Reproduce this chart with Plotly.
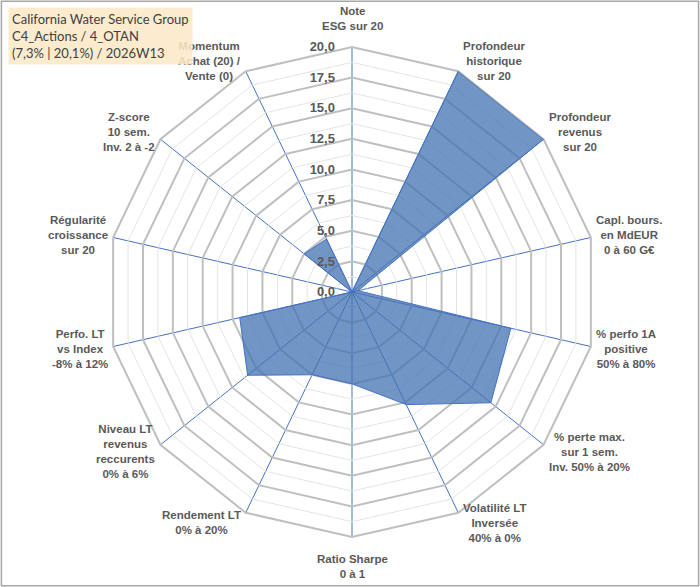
import math
import plotly.graph_objects as go

# axes of the radar (clockwise from the top)
criteres = [
    "Note<br>ESG sur 20",
    "Profondeur<br>historique<br>sur 20",
    "Profondeur<br>revenus<br>sur 20",
    "Capl. bours.<br>en MdEUR<br>0 à 60 G€",
    "% perfo 1A<br>positive<br>50% à 80%",
    "% perte max.<br>sur 1 sem.<br>Inv. 50% à 20%",
    "Volatilité LT<br>Inversée<br>40% à 0%",
    "Ratio Sharpe<br>0 à 1",
    "Rendement LT<br>0% à 20%",
    "Niveau LT<br>revenus<br>reccurents<br>0% à 6%",
    "Perfo. LT<br>vs Index<br>-8% à 12%",
    "Régularité<br>croissance<br>sur 20",
    "Z-score<br>10 sem.<br>Inv. 2 à -2",
    "Momentum<br>Achat (20) /<br>Vente (0)",
]
notes = [0, 20, 20, 0.5, 13.3, 14.5, 10.2, 7.5, 7.5, 10.9, 9.4, 0, 5.0, 4.8]

# light intermediate rings between the 2,5 steps
anneaux_mineurs = [1.25, 3.75, 6.25, 8.75, 11.25, 13.75, 16.25, 18.75]

titre = ["California Water Service Group", "C4_Actions / 4_OTAN", "(7,3% | 20,1%) / 2026W13"]

fig = go.Figure()

theta_ferme = criteres + [criteres[0]]
for v in anneaux_mineurs:
    fig.add_trace(go.Scatterpolar(
        r=[v] * len(theta_ferme), theta=theta_ferme, mode="lines",
        line=dict(color="#E4E4E4", width=1), hoverinfo="skip", showlegend=False,
    ))

fig.add_trace(go.Scatterpolar(
    r=notes + [notes[0]], theta=theta_ferme, mode="lines",
    fill="toself", fillcolor="rgba(65,113,176,0.75)",
    line=dict(color="#4472C4", width=1), showlegend=False,
))

W, H = 700, 587
cx, cy, R = 352, 292, 245

# category labels placed beside each spoke end, centred text like Excel
annots = []
n = len(criteres)
for k, lab in enumerate(criteres):
    a = math.radians(k * 360 / n)
    s, c = math.sin(a), math.cos(a)
    vx, vy = cx + R * s, cy - R * c
    d = dict(text=lab, xref="paper", yref="paper", x=vx / W, y=1 - vy / H,
             showarrow=False, align="center",
             font=dict(size=11.5, color="#595959", weight="bold"))
    if k == 0:
        d.update(xanchor="center", yanchor="bottom", yshift=13)
    elif k == n // 2:
        d.update(xanchor="center", yanchor="top", yshift=-14)
    else:
        d.update(xanchor="left" if s > 0 else "right", yanchor="middle",
                 xshift=3 if s > 0 else -3, yshift=11 * c)
    annots.append(d)

annots.append(dict(
    text="<br>".join(titre), xref="paper", yref="paper", x=8 / W, y=1 - 7 / H,
    xanchor="left", yanchor="top", align="left", showarrow=False,
    font=dict(family="Lato", size=13, color="#404040"),
    bgcolor="rgba(252,232,198,0.88)", borderpad=3,
))

fig.update_layout(
    width=W, height=H,
    margin=dict(l=0, r=0, t=0, b=0),
    paper_bgcolor="white",
    separators=", ",
    font=dict(family="Liberation Sans, Arial", color="#595959"),
    polar=dict(
        domain=dict(x=[(cx - R) / W, (cx + R) / W], y=[(H - cy - R) / H, (H - cy + R) / H]),
        bgcolor="white",
        gridshape="linear",
        radialaxis=dict(
            range=[0, 20], dtick=2.5, tickformat=".1f", angle=90,
            side="counterclockwise", tickangle=90,
            showline=False, ticks="outside", ticklen=12, tickcolor="rgba(0,0,0,0)",
            gridcolor="#BFBFBF", gridwidth=2,
            tickfont=dict(size=13, color="#595959", weight="bold"),
            layer="above traces",
        ),
        angularaxis=dict(
            direction="clockwise", rotation=90,
            gridcolor="#4472C4", gridwidth=1,
            showline=True, linecolor="#BFBFBF", linewidth=2,
            ticks="", showticklabels=False,
            layer="below traces",
        ),
    ),
    shapes=[dict(type="rect", xref="paper", yref="paper", x0=0.002, x1=0.998, y0=0.002, y1=0.998,
                 line=dict(color="#A6A6A6", width=1.5))],
    annotations=annots,
)

# drop the default page margin so the figure sits at the window origin
fig.write_html("out.html", config={"displayModeBar": False},
               post_script="document.body.style.margin='0';")
